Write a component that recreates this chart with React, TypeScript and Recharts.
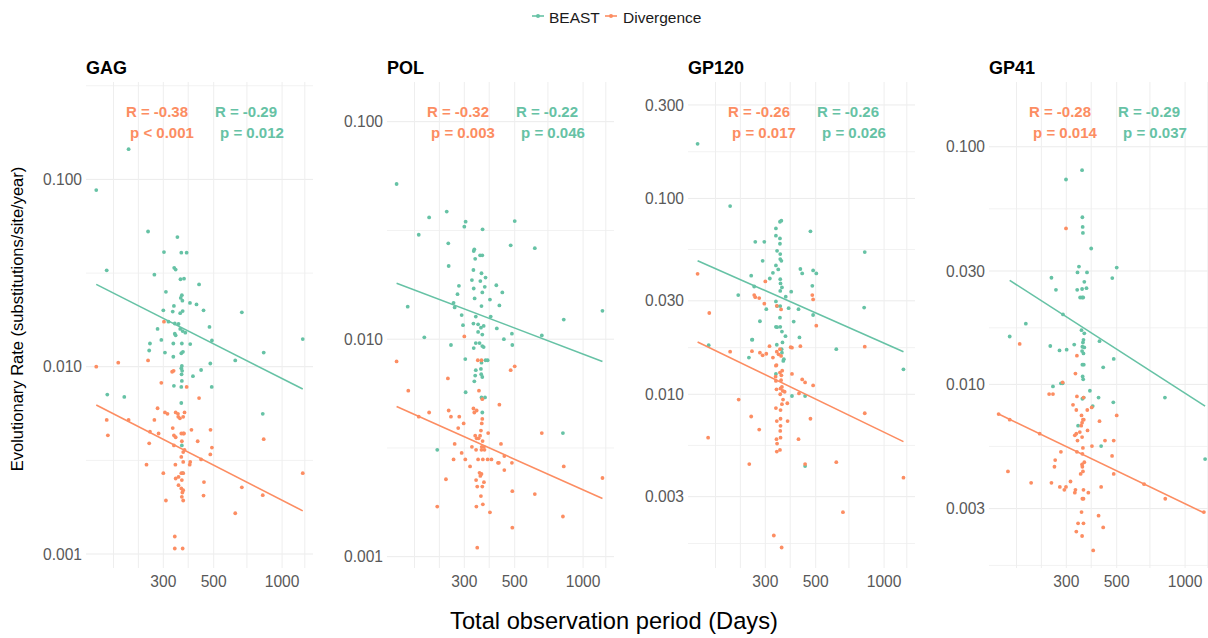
import React from "react";
import { ScatterChart, Scatter, XAxis, YAxis, ReferenceLine } from "recharts";

// colours (ColorBrewer Set2)
const BEAST_COL = "#66c2a5";
const DIV_COL = "#fc8d62";
const FONT = "'Liberation Sans', Arial, Helvetica, sans-serif";

type Pt = [number, number]; // [days, rate]

// ---- shared x axis ----
const xTicks = [300, 500, 1000];
const xMinor = [181, 233, 386, 700, 1259];
const xDomain: [number, number] = [137, 1368];

const panelNames = ["GAG", "POL", "GP120", "GP41"];
const divergenceStats = [
	["R = -0.38", "p < 0.001"],
	["R = -0.32", "p = 0.003"],
	["R = -0.26", "p = 0.017"],
	["R = -0.28", "p = 0.014"],
];
const beastStats = [
	["R = -0.29", "p = 0.012"],
	["R = -0.22", "p = 0.046"],
	["R = -0.26", "p = 0.026"],
	["R = -0.29", "p = 0.037"],
];

// ---- y axes ----
const gagTicks = [0.001, 0.01, 0.1];
const polTicks = [0.001, 0.01, 0.1];
const gp120Ticks = [0.003, 0.01, 0.03, 0.1, 0.3];
const gp41Ticks = [0.003, 0.01, 0.03, 0.1];
const gagMinor = [0.00316, 0.0316, 0.316];
const polMinor = [0.00316, 0.0316];
const gp120Minor = [0.00173, 0.00548, 0.0173, 0.0548, 0.173];
const gp41Minor = [0.00173, 0.00548, 0.0173, 0.0548];
const gagDomain: [number, number] = [0.000842, 0.331];
const polDomain: [number, number] = [0.000887, 0.1522];
const gp120Domain: [number, number] = [0.001297, 0.393];
const gp41Domain: [number, number] = [0.001687, 0.1873];

// ---- GAG ----
const gagBeast: Pt[] = [
	[211, 0.145], [152, 0.0877], [257, 0.0527], [346, 0.0492], [302, 0.0409], [360, 0.0406], [380, 0.0406],
	[169, 0.0327], [335, 0.0337], [340, 0.033], [274, 0.031], [370, 0.0295], [357, 0.0293], [431, 0.0275],
	[308, 0.0251], [362, 0.0241], [358, 0.0233], [364, 0.0225], [393, 0.0219], [420, 0.0215], [334, 0.0211],
	[300, 0.02], [330, 0.0197], [356, 0.0193], [365, 0.0198], [451, 0.02], [665, 0.0195], [316, 0.0174],
	[337, 0.017], [350, 0.0169], [283, 0.0159], [356, 0.0159], [365, 0.0155], [375, 0.0152], [479, 0.0163],
	[337, 0.015], [340, 0.0147], [1233, 0.01405], [262, 0.0133], [260, 0.0122], [294, 0.0139], [305, 0.0119],
	[332, 0.0133], [362, 0.0133], [394, 0.0132], [360, 0.0118], [366, 0.012], [332, 0.0113], [491, 0.0138],
	[830, 0.0119], [622, 0.0108], [483, 0.0104], [362, 0.0101], [360, 0.0098], [363, 0.0095], [361, 0.0091],
	[362, 0.0084], [360, 0.0078], [440, 0.0096], [405, 0.0089], [490, 0.0078], [334, 0.0079], [170, 0.0071],
	[202, 0.0069], [360, 0.0064], [822, 0.0056], [362, 0.0038], [365, 0.0027],
];
const gagDivergence: Pt[] = [
	[302, 0.0174], [152, 0.01], [190, 0.0105], [257, 0.0108], [328, 0.0094], [333, 0.0095], [294, 0.0082],
	[380, 0.0078], [431, 0.0068], [283, 0.006], [305, 0.0057], [313, 0.0056], [340, 0.0057], [348, 0.0056],
	[372, 0.0057], [169, 0.0052], [211, 0.0052], [274, 0.0052], [349, 0.0054], [355, 0.0053], [367, 0.0054],
	[171, 0.0043], [262, 0.0045], [286, 0.0044], [260, 0.0039], [330, 0.0047], [334, 0.0043], [340, 0.0042],
	[360, 0.0044], [367, 0.0044], [370, 0.0044], [399, 0.0046], [484, 0.0046], [425, 0.004], [334, 0.0038],
	[362, 0.004], [367, 0.0035], [372, 0.0036], [360, 0.0033], [367, 0.0031], [491, 0.0037], [483, 0.0034],
	[253, 0.003], [300, 0.0027], [339, 0.003], [394, 0.0031], [392, 0.003], [440, 0.0032], [360, 0.0027],
	[367, 0.0027], [350, 0.00258], [340, 0.00253], [362, 0.00248], [350, 0.00233], [360, 0.00224],
	[367, 0.00219], [364, 0.00213], [362, 0.00202], [367, 0.00193], [308, 0.00193], [453, 0.00242],
	[451, 0.00205], [665, 0.00227], [822, 0.00206], [830, 0.0041], [622, 0.00165], [1233, 0.0027],
	[337, 0.00124], [337, 0.00107], [365, 0.00107],
];
const gagBeastFit: Pt[] = [[152, 0.0275], [1233, 0.0076]];
const gagDivergenceFit: Pt[] = [[152, 0.00625], [1233, 0.0017]];

// ---- POL ----
const polBeast: Pt[] = [
	[151, 0.0517], [210, 0.0363], [251, 0.0386], [189, 0.0302], [304, 0.0347], [300, 0.0329], [361, 0.032],
	[500, 0.0349], [255, 0.0276], [480, 0.027], [613, 0.0262], [332, 0.0259], [330, 0.0254], [335, 0.0234],
	[352, 0.0243], [360, 0.0243], [256, 0.0217], [329, 0.0208], [357, 0.0201], [372, 0.0192], [324, 0.0187],
	[353, 0.0185], [284, 0.0176], [415, 0.0177], [330, 0.0171], [369, 0.0174], [360, 0.0164], [280, 0.0161],
	[441, 0.0164], [333, 0.0154], [389, 0.0152], [269, 0.0147], [272, 0.014], [357, 0.0142], [428, 0.0143],
	[169, 0.0141], [292, 0.0129], [337, 0.0127], [392, 0.0127], [822, 0.0123], [1217, 0.0135], [296, 0.0116],
	[329, 0.0118], [345, 0.0117], [355, 0.0113], [365, 0.0115], [417, 0.0112], [486, 0.0106], [658, 0.0104],
	[345, 0.0108], [360, 0.0105], [200, 0.0102], [448, 0.01], [262, 0.0094], [337, 0.0096], [350, 0.0096],
	[360, 0.0093], [365, 0.0092], [330, 0.0091], [488, 0.0094], [303, 0.0081], [357, 0.0078], [372, 0.008],
	[380, 0.008], [355, 0.0073], [337, 0.0072], [356, 0.0069], [360, 0.0067], [335, 0.0068], [332, 0.0064],
	[304, 0.0057], [357, 0.0054], [370, 0.0054], [360, 0.0046], [815, 0.0037], [228, 0.0031],
];
const polDivergence: Pt[] = [
	[300, 0.0103], [151, 0.0079], [170, 0.0058], [254, 0.0066], [344, 0.008], [357, 0.008], [480, 0.0072],
	[500, 0.0075], [348, 0.0058], [360, 0.0053], [428, 0.005], [329, 0.0048], [332, 0.0046], [340, 0.0047],
	[189, 0.0044], [210, 0.0046], [256, 0.0047], [262, 0.0044], [285, 0.0044], [298, 0.0041], [282, 0.0039],
	[360, 0.0043], [358, 0.0041], [355, 0.0038], [382, 0.0037], [658, 0.0037], [335, 0.0036], [340, 0.0035],
	[347, 0.0035], [352, 0.0036], [272, 0.0033], [361, 0.0034], [358, 0.0032], [366, 0.0032], [357, 0.0031],
	[368, 0.0031], [324, 0.0032], [338, 0.0031], [435, 0.0033], [450, 0.0029], [422, 0.0027], [426, 0.0027],
	[269, 0.0028], [292, 0.003], [303, 0.0028], [318, 0.0026], [345, 0.0028], [362, 0.0028], [380, 0.0028],
	[395, 0.0028], [486, 0.0027], [450, 0.0025], [822, 0.0026], [1217, 0.0023], [350, 0.00243], [357, 0.0024],
	[353, 0.00235], [366, 0.0022], [338, 0.00225], [342, 0.0021], [360, 0.0021], [355, 0.0019], [362, 0.00174],
	[249, 0.00227], [488, 0.002], [613, 0.00194], [228, 0.0017], [339, 0.0017], [389, 0.0016], [815, 0.00153],
	[488, 0.00136], [342, 0.0011],
];
const polBeastFit: Pt[] = [[151, 0.0181], [1217, 0.0079]];
const polDivergenceFit: Pt[] = [[151, 0.0049], [1217, 0.00185]];

// ---- GP120 ----
const gp120Beast: Pt[] = [
	[151, 0.19], [210, 0.0914], [348, 0.076], [353, 0.077], [334, 0.0703], [474, 0.0679], [334, 0.0645],
	[348, 0.0625], [348, 0.0587], [271, 0.06], [297, 0.06], [822, 0.0532], [338, 0.054], [349, 0.052],
	[349, 0.049], [353, 0.048], [292, 0.048], [334, 0.0455], [342, 0.0434], [428, 0.0436], [436, 0.0414],
	[487, 0.0429], [503, 0.0414], [324, 0.0417], [260, 0.0403], [314, 0.039], [349, 0.0387], [350, 0.0368],
	[355, 0.0351], [349, 0.0337], [268, 0.0355], [390, 0.0334], [483, 0.0358], [228, 0.0321], [369, 0.0315],
	[334, 0.0298], [338, 0.0282], [349, 0.0282], [380, 0.0275], [420, 0.0272], [817, 0.0277], [303, 0.0272],
	[487, 0.0254], [400, 0.0235], [368, 0.0198], [284, 0.0236], [348, 0.0246], [334, 0.0221], [338, 0.022],
	[349, 0.0221], [355, 0.0209], [424, 0.0195], [262, 0.019], [169, 0.0178], [263, 0.019], [254, 0.0154],
	[337, 0.0179], [357, 0.0184], [354, 0.017], [355, 0.0163], [360, 0.0148], [362, 0.0151], [334, 0.0127],
	[616, 0.017], [393, 0.0098], [449, 0.0098], [449, 0.0043], [1217, 0.0134],
];
const gp120Divergence: Pt[] = [
	[151, 0.0412], [300, 0.0377], [268, 0.0321], [271, 0.0313], [282, 0.031], [297, 0.029], [337, 0.0283],
	[352, 0.0271], [483, 0.0321], [487, 0.0305], [170, 0.026], [503, 0.0224], [210, 0.0165], [262, 0.0166],
	[284, 0.0163], [292, 0.0158], [303, 0.0161], [313, 0.0176], [324, 0.0154], [337, 0.0165], [343, 0.016],
	[348, 0.017], [352, 0.0157], [334, 0.014], [336, 0.0141], [388, 0.0174], [393, 0.0173], [428, 0.0176],
	[822, 0.0175], [334, 0.0117], [333, 0.0123], [352, 0.0118], [348, 0.0129], [356, 0.0132], [353, 0.0125],
	[393, 0.0127], [436, 0.0119], [449, 0.0115], [487, 0.0111], [336, 0.0106], [350, 0.0107], [355, 0.0109],
	[358, 0.0104], [349, 0.01], [365, 0.0103], [422, 0.0101], [229, 0.0094], [359, 0.0094], [355, 0.0089],
	[375, 0.009], [334, 0.0085], [350, 0.0083], [260, 0.0077], [350, 0.0075], [337, 0.0073], [376, 0.0073],
	[474, 0.0075], [822, 0.008], [282, 0.0066], [350, 0.0069], [349, 0.0065], [350, 0.006], [336, 0.0059],
	[338, 0.0056], [348, 0.0052], [337, 0.0051], [420, 0.0059], [168, 0.006], [255, 0.0044], [449, 0.0044],
	[616, 0.0045], [1217, 0.00375], [659, 0.0025], [327, 0.0019], [354, 0.00165],
];
const gp120BeastFit: Pt[] = [[151, 0.0481], [1217, 0.0165]];
const gp120DivergenceFit: Pt[] = [[151, 0.0185], [1217, 0.00573]];

// ---- GP41 ----
const gp41Beast: Pt[] = [
	[352, 0.0797], [299, 0.0728], [353, 0.0505], [354, 0.046], [355, 0.0434], [386, 0.0373], [341, 0.0313],
	[336, 0.0296], [370, 0.0296], [500, 0.031], [478, 0.028], [258, 0.0281], [270, 0.025], [335, 0.025],
	[352, 0.0252], [368, 0.0254], [360, 0.027], [345, 0.0232], [352, 0.0232], [356, 0.0232], [290, 0.0197],
	[199, 0.018], [169, 0.0159], [350, 0.0169], [360, 0.0164], [357, 0.0154], [420, 0.0152], [255, 0.0145],
	[280, 0.0139], [301, 0.014], [325, 0.0147], [355, 0.015], [353, 0.0144], [360, 0.0143], [352, 0.0138],
	[357, 0.0135], [485, 0.0128], [353, 0.0121], [358, 0.0121], [436, 0.0118], [354, 0.0108], [356, 0.0105],
	[262, 0.0098], [284, 0.0101], [289, 0.0101], [381, 0.0094], [416, 0.0088], [353, 0.0087], [358, 0.0088],
	[483, 0.0084], [815, 0.0088], [392, 0.0081], [338, 0.0067], [427, 0.0055], [1225, 0.00485],
];
const gp41Divergence: Pt[] = [
	[299, 0.0453], [187, 0.0148], [334, 0.0132], [329, 0.0111], [289, 0.0102], [252, 0.0091], [262, 0.0091],
	[334, 0.0089], [357, 0.0088], [321, 0.0082], [332, 0.0078], [371, 0.0078], [388, 0.008], [350, 0.0074],
	[355, 0.0071], [358, 0.0071], [352, 0.0069], [349, 0.0067], [420, 0.007], [500, 0.0074], [151, 0.0075],
	[169, 0.0071], [229, 0.0062], [327, 0.0061], [332, 0.0062], [336, 0.0058], [344, 0.0063], [352, 0.006],
	[372, 0.0064], [444, 0.0058], [485, 0.0058], [389, 0.0055], [355, 0.0054], [334, 0.0052], [353, 0.0051],
	[284, 0.0052], [477, 0.005], [360, 0.0047], [352, 0.0046], [353, 0.0045], [355, 0.0043], [347, 0.0042],
	[268, 0.0048], [266, 0.0045], [166, 0.0043], [485, 0.0042], [210, 0.00385], [258, 0.00385], [281, 0.0037],
	[294, 0.0036], [299, 0.0037], [313, 0.0039], [329, 0.0036], [357, 0.0036], [375, 0.0035], [353, 0.0033],
	[357, 0.0033], [327, 0.0035], [427, 0.0037], [660, 0.0038], [818, 0.0033], [1210, 0.0029], [350, 0.0029],
	[338, 0.0026], [357, 0.0026], [416, 0.0028], [436, 0.0025], [332, 0.0024], [352, 0.0023], [394, 0.002],
];
const gp41BeastFit: Pt[] = [[169, 0.0274], [1225, 0.0081]];
const gp41DivergenceFit: Pt[] = [[151, 0.0075], [1210, 0.00288]];

// layout
const PLOT_TOP = 82;
const PLOT_W = 227;
const PLOT_H = 486;
const Y_AXIS_W = 70;
const X_AXIS_H = 34;
const panelLefts = [86, 387, 688, 989];

const toXY = (pts: Pt[]) => pts.map(([x, y]) => ({ x, y }));

const panels = [
	{ beast: gagBeast, div: gagDivergence, beastFit: gagBeastFit, divFit: gagDivergenceFit, domain: gagDomain, ticks: gagTicks, minor: gagMinor },
	{ beast: polBeast, div: polDivergence, beastFit: polBeastFit, divFit: polDivergenceFit, domain: polDomain, ticks: polTicks, minor: polMinor },
	{ beast: gp120Beast, div: gp120Divergence, beastFit: gp120BeastFit, divFit: gp120DivergenceFit, domain: gp120Domain, ticks: gp120Ticks, minor: gp120Minor },
	{ beast: gp41Beast, div: gp41Divergence, beastFit: gp41BeastFit, divFit: gp41DivergenceFit, domain: gp41Domain, ticks: gp41Ticks, minor: gp41Minor },
];

const dot = (color: string) => (p: any) => <circle cx={p.cx} cy={p.cy} r={1.9} fill={color} />;
const noDot = () => <g />;

function Panel({ idx }: { idx: number }) {
	const cfg = panels[idx];
	const left = panelLefts[idx];
	return (
		<div style={{ position: "absolute", left: left - Y_AXIS_W, top: PLOT_TOP }}>
			<ScatterChart
				width={Y_AXIS_W + PLOT_W}
				height={PLOT_H + X_AXIS_H}
				margin={{ top: 0, right: 0, bottom: 0, left: 0 }}
			>
				<XAxis
					type="number"
					dataKey="x"
					scale="log"
					domain={xDomain}
					allowDataOverflow
					ticks={xTicks}
					interval={0}
					height={X_AXIS_H}
					axisLine={false}
					tickLine={false}
					tickSize={0}
					tickMargin={8}
					tick={{ fill: "#595959", fontSize: 15.6 }}
				/>
				<YAxis
					type="number"
					dataKey="y"
					scale="log"
					domain={cfg.domain}
					allowDataOverflow
					ticks={cfg.ticks}
					interval={0}
					width={Y_AXIS_W}
					axisLine={false}
					tickLine={false}
					tickSize={0}
					tickMargin={4}
					tickFormatter={(v: number) => v.toFixed(3)}
					tick={{ fill: "#595959", fontSize: 15.6 }}
				/>
				{cfg.minor
					.filter((v) => v > cfg.domain[0] && v < cfg.domain[1])
					.map((v) => (
						<ReferenceLine key={"ym" + v} y={v} stroke="#f2f2f2" strokeWidth={1} />
					))}
				{cfg.ticks.map((v) => (
					<ReferenceLine key={"y" + v} y={v} stroke="#ebebeb" strokeWidth={1} />
				))}
				{[...xMinor, ...xTicks].map((v) => (
					<ReferenceLine key={"x" + v} x={v} stroke="#eeeeee" strokeWidth={1} />
				))}
				<Scatter data={toXY(cfg.beast)} fill={BEAST_COL} shape={dot(BEAST_COL)} isAnimationActive={false} />
				<Scatter data={toXY(cfg.div)} fill={DIV_COL} shape={dot(DIV_COL)} isAnimationActive={false} />
				<Scatter
					data={toXY(cfg.beastFit)}
					fill={BEAST_COL}
					line={{ stroke: BEAST_COL, strokeWidth: 1.6 }}
					lineType="joint"
					shape={noDot}
					isAnimationActive={false}
				/>
				<Scatter
					data={toXY(cfg.divFit)}
					fill={DIV_COL}
					line={{ stroke: DIV_COL, strokeWidth: 1.6 }}
					lineType="joint"
					shape={noDot}
					isAnimationActive={false}
				/>
			</ScatterChart>
		</div>
	);
}

export default function App() {
	return (
		<div
			style={{
				position: "absolute",
				left: 0,
				top: 0,
				width: 1208,
				height: 638,
				overflow: "hidden",
				background: "#fff",
				fontFamily: FONT,
			}}
		>
			{panels.map((_, i) => (
				<Panel key={i} idx={i} />
			))}
			<svg
				width={1208}
				height={638}
				style={{ position: "absolute", left: 0, top: 0, pointerEvents: "none" }}
				fontFamily={FONT}
			>
				{/* legend */}
				<line x1={532} x2={544} y1={16} y2={16} stroke={BEAST_COL} strokeWidth={1.6} />
				<circle cx={538} cy={16} r={2} fill={BEAST_COL} />
				<text x={549} y={22.5} fontSize={15.5} fill="#1a1a1a">BEAST</text>
				<line x1={605} x2={617} y1={16} y2={16} stroke={DIV_COL} strokeWidth={1.6} />
				<circle cx={611} cy={16} r={2} fill={DIV_COL} />
				<text x={623} y={22.5} fontSize={15.5} fill="#1a1a1a">Divergence</text>

				{panelNames.map((name, i) => {
					const L = panelLefts[i];
					return (
						<g key={name}>
							<text x={L} y={73.5} fontSize={18} fontWeight="bold" fill="#000">{name}</text>
							<text x={L + 71} y={116.5} fontSize={15} fontWeight="bold" fill={DIV_COL} textAnchor="middle">
								{divergenceStats[i][0]}
							</text>
							<text x={L + 76} y={137.5} fontSize={15} fontWeight="bold" fill={DIV_COL} textAnchor="middle">
								{divergenceStats[i][1]}
							</text>
							<text x={L + 160} y={116.5} fontSize={15} fontWeight="bold" fill={BEAST_COL} textAnchor="middle">
								{beastStats[i][0]}
							</text>
							<text x={L + 166} y={137.5} fontSize={15} fontWeight="bold" fill={BEAST_COL} textAnchor="middle">
								{beastStats[i][1]}
							</text>
						</g>
					);
				})}

				<text
					x={23}
					y={319}
					fontSize={16.5}
					fill="#000"
					textAnchor="middle"
					transform="rotate(-90 23 319)"
				>
					Evolutionary Rate (substitutions/site/year)
				</text>
				<text x={614} y={629} fontSize={23.7} fill="#000" textAnchor="middle">
					Total observation period (Days)
				</text>
			</svg>
		</div>
	);
}
